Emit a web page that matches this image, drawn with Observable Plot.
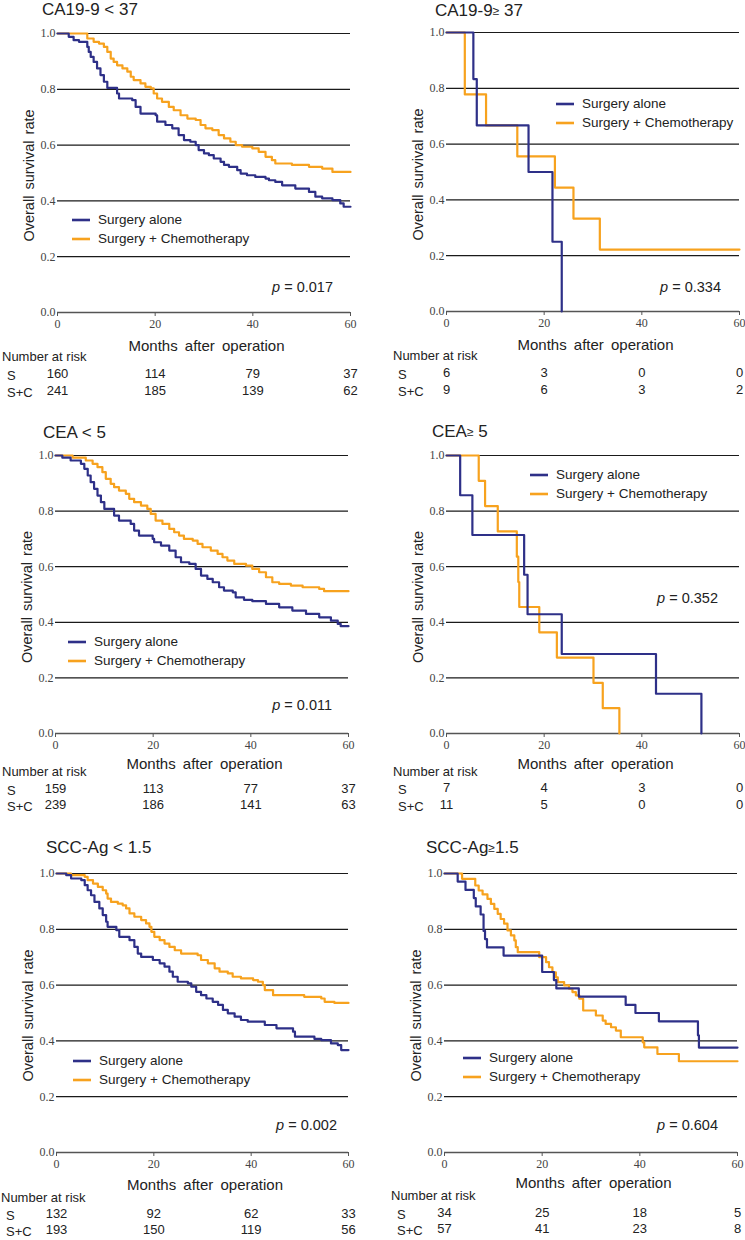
<!DOCTYPE html>
<html><head><meta charset="utf-8">
<script src="https://cdn.jsdelivr.net/npm/d3@7"></script>
<script src="https://cdn.jsdelivr.net/npm/@observablehq/plot@0.6"></script>
<style>
body{margin:0;background:#fff;}
#wrap{position:relative;width:745px;height:1240px;overflow:hidden;background:#fff;}
.panel{position:absolute;}
</style></head><body><div id="wrap"></div>
<script>
const SANS = '"Liberation Sans", Arial, sans-serif';
const SERIF = '"Liberation Serif", "Times New Roman", serif';
const NAVY = "#2e3088";
const ORANGE = "#f7a21e";

const xTicks = [0, 20, 40, 60];
const yTicks = [0, 0.2, 0.4, 0.6, 0.8, 1.0];
const gridLevels = [0.2, 0.4, 0.6, 0.8, 1.0];
const riskMonths = [0, 20, 40, 60];
const seriesNames = ["Surgery alone", "Surgery + Chemotherapy"];

// Kaplan–Meier step points [month, survival]
const ca19Low_S = [[0,1],[2.3,0.988],[3.3,0.976],[4.4,0.970],[6.1,0.952],[6.4,0.934],[6.8,0.916],[7.4,0.898],[8.1,0.875],[8.8,0.851],[9.5,0.827],[10.2,0.805],[12.2,0.785],[12.6,0.767],[15.3,0.761],[16,0.737],[17,0.713],[20.1,0.707],[20.4,0.684],[22.1,0.672],[23.5,0.660],[24.8,0.636],[25.9,0.618],[27.2,0.612],[28.3,0.600],[28.9,0.582],[30,0.570],[31,0.564],[32,0.552],[33.4,0.540],[34.1,0.529],[35.1,0.522],[36.8,0.510],[37.5,0.498],[38.8,0.492],[40.5,0.486],[42.6,0.480],[43.3,0.474],[44.6,0.468],[46,0.456],[48.7,0.444],[51.5,0.432],[52.8,0.415],[54.2,0.409],[56.3,0.403],[57.9,0.391],[58.6,0.379],[60,0.379]];
const ca19Low_SC = [[0,1],[6.1,0.982],[7.4,0.970],[8.5,0.964],[9.5,0.952],[10.2,0.934],[10.9,0.910],[11.5,0.898],[12.2,0.886],[13.3,0.875],[14.3,0.863],[15,0.845],[15.6,0.833],[17,0.821],[18,0.809],[19.1,0.803],[19.7,0.785],[20.4,0.767],[21.4,0.755],[22.8,0.737],[23.8,0.725],[25.2,0.707],[26.6,0.695],[28.3,0.690],[29.3,0.672],[30.3,0.660],[31.7,0.654],[33,0.636],[34.1,0.624],[35.4,0.612],[36.5,0.600],[37.8,0.594],[39.9,0.588],[41.2,0.576],[42.6,0.558],[43.9,0.546],[44.6,0.534],[48,0.529],[51.5,0.522],[54.2,0.516],[56.3,0.504],[60,0.504]];
const ca19High_S = [[0,1],[5.5,0.833],[6.2,0.667],[16.8,0.5],[21.7,0.25],[23.6,0]];
const ca19High_SC = [[0,1],[3.75,0.778],[8.1,0.667],[14.5,0.556],[22.2,0.444],[26,0.333],[31.4,0.222],[60,0.222]];
const ceaLow_S = [[0,1],[1.4,0.992],[3.1,0.982],[5.2,0.970],[5.9,0.952],[6.6,0.928],[7.2,0.904],[7.9,0.880],[8.6,0.856],[9.3,0.832],[10,0.808],[12,0.784],[13,0.766],[15.4,0.754],[16.1,0.730],[17.1,0.712],[19.9,0.700],[20.2,0.688],[21.6,0.676],[23.3,0.658],[24.6,0.634],[25.7,0.616],[27.4,0.610],[28.7,0.592],[29.8,0.568],[31.1,0.556],[32.2,0.544],[33.5,0.526],[34.5,0.514],[36.3,0.508],[36.9,0.490],[38.6,0.481],[40.3,0.476],[43.1,0.466],[45.8,0.454],[48.5,0.442],[51.3,0.430],[54,0.418],[56.4,0.406],[57.8,0.394],[58.4,0.386],[60,0.386]];
const ceaLow_SC = [[0,1],[3.5,0.992],[6.2,0.982],[7.6,0.970],[8.6,0.958],[9.6,0.940],[10.3,0.916],[11.3,0.898],[12,0.886],[13,0.874],[14.4,0.862],[15.1,0.844],[16.1,0.832],[17.5,0.820],[18.8,0.808],[19.5,0.790],[20.5,0.766],[21.9,0.754],[23.3,0.736],[24.3,0.724],[25.3,0.712],[26.3,0.700],[28.1,0.694],[29.1,0.682],[30.1,0.670],[31.8,0.658],[33.2,0.646],[34.2,0.634],[35.2,0.622],[36.6,0.610],[39,0.604],[40.3,0.592],[41.7,0.580],[43.1,0.562],[44.4,0.544],[45.8,0.538],[48.2,0.532],[50.6,0.526],[54,0.520],[55,0.512],[60,0.512]];
const ceaHigh_S = [[0,1],[2.8,0.857],[5.3,0.714],[15.9,0.571],[16.6,0.429],[23.6,0.286],[42.9,0.143],[52.2,0]];
const ceaHigh_SC = [[0,1],[6.6,0.909],[7.9,0.818],[10.5,0.727],[14.4,0.636],[14.7,0.545],[14.9,0.455],[19,0.364],[22.6,0.273],[30.1,0.182],[32,0.091],[35.4,0]];
const sccLow_S = [[0,1],[2,0.994],[3,0.982],[5.1,0.976],[5.8,0.958],[6.4,0.940],[7.1,0.922],[7.8,0.898],[8.8,0.875],[9.5,0.851],[10.2,0.827],[10.5,0.809],[12.3,0.797],[12.9,0.773],[15,0.761],[16,0.737],[16.7,0.713],[17.4,0.701],[19.8,0.690],[21.2,0.678],[22.2,0.666],[23.2,0.648],[23.9,0.630],[24.9,0.612],[27,0.606],[27.7,0.594],[28.7,0.576],[29.7,0.564],[30.8,0.552],[32.1,0.540],[33.2,0.529],[34.2,0.511],[35.2,0.499],[36.6,0.487],[37.9,0.475],[39.3,0.469],[42.8,0.457],[45.2,0.445],[48.6,0.433],[49,0.415],[53,0.407],[54.4,0.403],[56.4,0.391],[57.8,0.385],[58.5,0.367],[60,0.367]];
const sccLow_SC = [[0,1],[3,0.994],[5.8,0.988],[6.4,0.976],[7.5,0.964],[8.5,0.952],[9.5,0.940],[10.2,0.928],[10.5,0.910],[11.2,0.898],[12.6,0.892],[13.6,0.886],[14.3,0.875],[15,0.857],[16,0.845],[17.4,0.833],[18.4,0.821],[19.1,0.809],[19.5,0.791],[20.1,0.773],[21.2,0.761],[22.2,0.749],[23.2,0.737],[24.3,0.725],[25.6,0.713],[29,0.707],[29.7,0.690],[31.1,0.678],[32.5,0.660],[33.5,0.648],[35.2,0.642],[36.2,0.630],[37.9,0.624],[40.4,0.618],[41.4,0.612],[42.4,0.600],[42.8,0.582],[44.5,0.564],[50.9,0.558],[54.4,0.552],[55.1,0.540],[57.1,0.536],[60,0.536]];
const sccHigh_S = [[0,1],[2.7,0.971],[4.3,0.941],[6,0.912],[6.4,0.882],[7.4,0.853],[8,0.794],[8.3,0.765],[8.7,0.735],[12.1,0.706],[20,0.647],[22.4,0.618],[22.9,0.588],[27.5,0.559],[37.1,0.529],[39.1,0.5],[43.9,0.47],[51.9,0.42],[52.1,0.376],[60,0.376]];
const sccHigh_SC = [[0,1],[3.6,0.981],[6.3,0.957],[7,0.939],[7.8,0.925],[8.8,0.909],[9.5,0.891],[10.2,0.873],[10.9,0.855],[11.5,0.837],[12.2,0.820],[12.9,0.796],[13.6,0.778],[14.3,0.760],[14.6,0.736],[15,0.718],[19.4,0.700],[20.8,0.682],[21.4,0.664],[22.1,0.646],[22.8,0.628],[23.2,0.611],[24.5,0.599],[25.5,0.587],[26.2,0.575],[26.9,0.563],[27.6,0.551],[28.4,0.509],[31,0.491],[32.4,0.473],[33,0.461],[34.1,0.449],[35.1,0.437],[36.1,0.413],[40.6,0.395],[40.9,0.377],[43.6,0.353],[48,0.327],[60,0.327]];

// Number at risk
const ca19Low_riskS = [160, 114, 79, 37];
const ca19Low_riskSC = [241, 185, 139, 62];
const ca19High_riskS = [6, 3, 0, 0];
const ca19High_riskSC = [9, 6, 3, 2];
const ceaLow_riskS = [159, 113, 77, 37];
const ceaLow_riskSC = [239, 186, 141, 63];
const ceaHigh_riskS = [7, 4, 3, 0];
const ceaHigh_riskSC = [11, 5, 0, 0];
const sccLow_riskS = [132, 92, 62, 33];
const sccLow_riskSC = [193, 150, 119, 56];
const sccHigh_riskS = [34, 25, 18, 5];
const sccHigh_riskSC = [57, 41, 23, 8];

const titles = ["CA19-9 < 37", "CA19-9≥ 37", "CEA < 5", "CEA≥ 5", "SCC-Ag < 1.5", "SCC-Ag≥1.5"];
const pValues = ["0.017", "0.334", "0.011", "0.352", "0.002", "0.604"];

const panels = [
  {S: ca19Low_S, SC: ca19Low_SC, rS: ca19Low_riskS, rSC: ca19Low_riskSC,
   box: {left: 0, top: 0, w: 372, h: 420}, m: {t: 33, r: 22, b: 108, l: 57},
   title: [42, 15], p: [333, 292], leg: [72, 220], rows: [35, 46, 65, 82], tableX: [2, 7]},
  {S: ca19High_S, SC: ca19High_SC, rS: ca19High_riskS, rSC: ca19High_riskSC,
   box: {left: 372, top: 0, w: 373, h: 420}, m: {t: 32, r: 6, b: 109, l: 74},
   title: [63, 16], p: [349, 292], leg: [184, 104], rows: [35, 46, 65, 82], tableX: [21, 26]},
  {S: ceaLow_S, SC: ceaLow_SC, rS: ceaLow_riskS, rSC: ceaLow_riskSC,
   box: {left: 0, top: 420, w: 372, h: 400}, m: {t: 35, r: 24, b: 87, l: 55},
   title: [43, 18], p: [332, 290], leg: [68, 222], rows: [32, 40, 59, 75], tableX: [2, 7]},
  {S: ceaHigh_S, SC: ceaHigh_SC, rS: ceaHigh_riskS, rSC: ceaHigh_riskSC,
   box: {left: 372, top: 420, w: 373, h: 400}, m: {t: 35, r: 6, b: 87, l: 74},
   title: [60, 17], p: [346, 183], leg: [158, 55], rows: [32, 40, 58, 75], tableX: [21, 26]},
  {S: sccLow_S, SC: sccLow_SC, rS: sccLow_riskS, rSC: sccLow_riskSC,
   box: {left: 0, top: 820, w: 372, h: 420}, m: {t: 53, r: 24, b: 88, l: 56},
   title: [46, 33], p: [337, 310], leg: [73, 241], rows: [34, 47, 65, 81], tableX: [1, 6]},
  {S: sccHigh_S, SC: sccHigh_SC, rS: sccHigh_riskS, rSC: sccHigh_riskSC,
   box: {left: 372, top: 820, w: 373, h: 420}, m: {t: 53, r: 8, b: 88, l: 72},
   title: [54, 33], p: [346, 310], leg: [91, 238], rows: [32, 45, 64, 80], tableX: [19, 25]}
];

const wrap = document.getElementById("wrap");

panels.forEach((P, i) => {
  const curveS = P.S.map(([t, s]) => ({t, s}));
  const curveSC = P.SC.map(([t, s]) => ({t, s}));
  const riskS = riskMonths.map((t, k) => ({t, n: P.rS[k]}));
  const riskSC = riskMonths.map((t, k) => ({t, n: P.rSC[k]}));
  const [dxLab, dNaR, dS, dSC] = P.rows;

  const svg = Plot.plot({
    width: P.box.w, height: P.box.h,
    marginTop: P.m.t, marginRight: P.m.r, marginBottom: P.m.b, marginLeft: P.m.l,
    style: {background: "transparent", overflow: "visible"},
    x: {domain: [0, 60]},
    y: {domain: [0, 1]},
    marks: [
      Plot.ruleY(gridLevels, {stroke: "#1a1a1a", strokeWidth: 1.2}),
      Plot.ruleY([0], {stroke: "#555", strokeWidth: 1.6}),
      Plot.axisX({ticks: xTicks, tickSize: 4, tickPadding: 3, stroke: "#555", fill: "#444",
        fontFamily: SERIF, fontSize: 12, label: null}),
      Plot.axisY({ticks: yTicks, tickSize: 0, tickPadding: 2, fill: "#444",
        tickFormat: d3.format(".1f"), fontFamily: SERIF, fontSize: 12, label: null}),
      Plot.line(curveSC, {x: "t", y: "s", curve: "step-after", stroke: ORANGE, strokeWidth: 2.2}),
      Plot.line(curveS, {x: "t", y: "s", curve: "step-after", stroke: NAVY, strokeWidth: 2.2}),
      Plot.text(riskS, {x: "t", text: "n", frameAnchor: "bottom", dy: dS, fill: "#222",
        fontFamily: SANS, fontSize: 13}),
      Plot.text(riskSC, {x: "t", text: "n", frameAnchor: "bottom", dy: dSC, fill: "#222",
        fontFamily: SANS, fontSize: 13})
    ]
  });

  const div = document.createElement("div");
  div.className = "panel";
  div.style.left = P.box.left + "px";
  div.style.top = P.box.top + "px";
  div.appendChild(svg);
  wrap.appendChild(div);

  const g = d3.select(svg).append("g").attr("font-family", SANS).attr("text-anchor", "start");
  const frameBottom = P.box.h - P.m.b;
  const frameMidX = (P.m.l + P.box.w - P.m.r) / 2;
  const frameMidY = (P.m.t + frameBottom) / 2;

  // title
  const tt = g.append("text").attr("x", P.title[0]).attr("y", P.title[1])
    .attr("text-anchor", "start").attr("font-size", 17).attr("fill", "#222");
  const parts = titles[i].split("≥");
  tt.append("tspan").text(parts[0]);
  if (parts.length > 1) {
    tt.append("tspan").attr("font-size", 12).attr("dy", -1).text("≥");
    tt.append("tspan").attr("dy", 1).text(parts[1]);
  }

  // y label
  g.append("text")
    .attr("transform", `translate(${P.m.l - 27},${frameMidY + 3}) rotate(-90)`)
    .attr("text-anchor", "middle").attr("dominant-baseline", "middle")
    .attr("font-size", 14.5).attr("word-spacing", 2).attr("fill", "#222")
    .text("Overall survival rate");

  // x label
  g.append("text").attr("x", frameMidX + 3).attr("y", frameBottom + dxLab)
    .attr("text-anchor", "middle").attr("dominant-baseline", "middle")
    .attr("font-size", 15).attr("word-spacing", 3).attr("fill", "#222")
    .text("Months after operation");

  // p value
  const pt = g.append("text").attr("x", P.p[0]).attr("y", P.p[1])
    .attr("text-anchor", "end").attr("font-size", 14.5).attr("fill", "#222");
  pt.append("tspan").attr("font-style", "italic").text("p");
  pt.append("tspan").text(" = " + pValues[i]);

  // legend
  [NAVY, ORANGE].forEach((c, k) => {
    const y = P.leg[1] + k * 19;
    g.append("line").attr("x1", P.leg[0]).attr("x2", P.leg[0] + 18)
      .attr("y1", y).attr("y2", y).attr("stroke", c).attr("stroke-width", 2.6);
    g.append("text").attr("x", P.leg[0] + 26).attr("y", y)
      .attr("text-anchor", "start").attr("dominant-baseline", "middle")
      .attr("font-size", 13.5).attr("fill", "#222")
      .text(seriesNames[k]);
  });

  // risk table labels
  const lab = (x, y, s) => g.append("text").attr("x", x).attr("y", y)
    .attr("text-anchor", "start").attr("dominant-baseline", "middle")
    .attr("font-size", 13).attr("fill", "#222").text(s);
  lab(P.tableX[0], frameBottom + dNaR, "Number at risk");
  lab(P.tableX[1], frameBottom + dS, "S");
  lab(P.tableX[1], frameBottom + dSC, "S+C");
});
</script></body></html>
